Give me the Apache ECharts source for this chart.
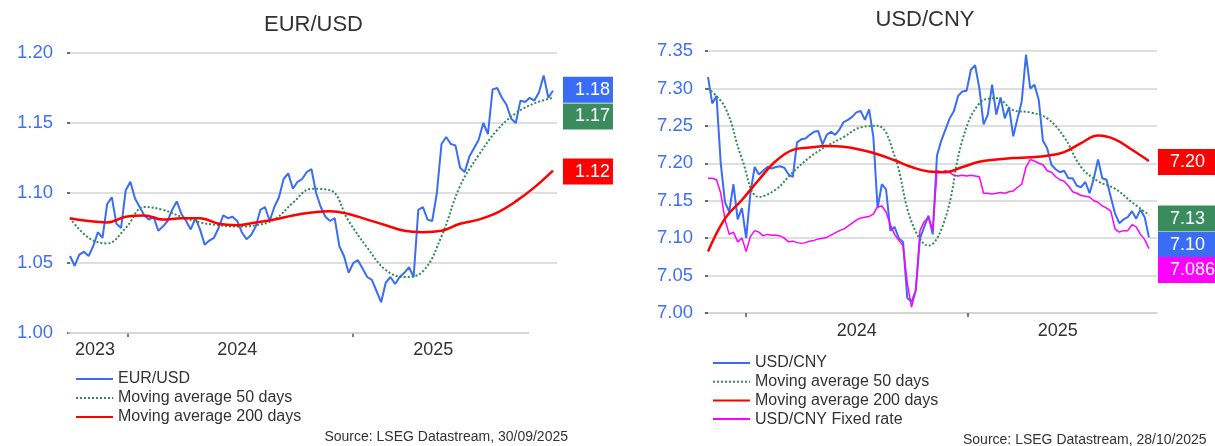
<!DOCTYPE html>
<html><head><meta charset="utf-8">
<script src="https://cdn.jsdelivr.net/npm/echarts@6/dist/echarts.min.js"></script>
<style>html,body{margin:0;padding:0;background:#fff}#c{width:1215px;height:446px}</style>
</head><body><div id="c"></div><script>
// ---------- EUR/USD (weekly samples, 28/09/2023 .. 30/09/2025) ----------
const eurusd = [1.055,1.048,1.056,1.058,1.055,1.062,1.072,1.068,1.092,1.097,
 1.078,1.075,1.102,1.108,1.096,1.090,1.084,1.081,1.083,1.073,
 1.076,1.080,1.088,1.094,1.085,1.080,1.074,1.082,1.074,1.063,
 1.066,1.068,1.075,1.084,1.082,1.083,1.080,1.072,1.067,1.070,
 1.076,1.088,1.090,1.080,1.090,1.097,1.110,1.114,1.103,1.108,
 1.110,1.115,1.117,1.100,1.090,1.083,1.080,1.082,1.062,1.055,
 1.043,1.050,1.052,1.046,1.040,1.038,1.030,1.022,1.036,1.040,
 1.035,1.040,1.043,1.047,1.040,1.088,1.090,1.081,1.080,1.100,
 1.135,1.140,1.135,1.134,1.118,1.115,1.126,1.132,1.138,1.150,
 1.142,1.174,1.175,1.168,1.163,1.153,1.150,1.166,1.165,1.168,
 1.166,1.172,1.184,1.168,1.173];
// moving averages, one value every 4 weeks
const eurMa50 = [1.082,1.068,1.064,1.075,1.090,1.088,1.083,1.079,1.077,1.076,1.077,1.081,1.093,1.103,1.102,1.080,1.061,1.045,1.040,1.044,1.069,1.105,1.127,1.145,1.157,1.164,1.168];
const eurMa200 = [1.082,1.080,1.079,1.083,1.084,1.081,1.082,1.082,1.078,1.077,1.079,1.081,1.084,1.086,1.087,1.085,1.081,1.077,1.073,1.072,1.073,1.078,1.081,1.086,1.094,1.104,1.116];
const eurEndLabels = ['1.18', '1.17', '1.12'];
const eurYearLabels = ['2023', '2024', '2025'];
const eurYearLabelPos = [5.4, 36.0, 78.2];   // in weeks
const eurYearTicks = [12.5, 60.9];           // in weeks

// ---------- USD/CNY (weekly samples, 27/10/2023 .. 28/10/2025) ----------
const usdcny = [7.315,7.280,7.290,7.200,7.148,7.135,7.172,7.125,7.140,7.100,
 7.160,7.195,7.185,7.190,7.195,7.193,7.195,7.196,7.194,7.185,
 7.182,7.228,7.232,7.233,7.238,7.242,7.243,7.225,7.238,7.242,
 7.238,7.245,7.255,7.258,7.262,7.268,7.270,7.258,7.272,7.235,
 7.140,7.172,7.165,7.110,7.115,7.100,7.095,7.020,7.015,7.030,
 7.100,7.115,7.130,7.105,7.210,7.230,7.245,7.260,7.270,7.290,
 7.296,7.297,7.325,7.331,7.300,7.252,7.265,7.305,7.265,7.288,
 7.260,7.275,7.236,7.260,7.283,7.345,7.300,7.305,7.285,7.230,
 7.220,7.198,7.192,7.188,7.190,7.180,7.180,7.170,7.168,7.175,
 7.160,7.180,7.205,7.180,7.178,7.155,7.133,7.120,7.125,7.128,
 7.136,7.126,7.138,7.128,7.101];
const cnyFix = [7.180,7.180,7.178,7.160,7.125,7.105,7.108,7.095,7.100,7.082,
 7.102,7.110,7.108,7.103,7.105,7.104,7.104,7.103,7.100,7.095,
 7.096,7.094,7.093,7.094,7.096,7.097,7.099,7.100,7.101,7.104,
 7.107,7.110,7.112,7.116,7.120,7.124,7.127,7.128,7.129,7.132,
 7.142,7.143,7.135,7.118,7.105,7.097,7.090,7.040,7.008,7.030,
 7.110,7.122,7.128,7.110,7.190,7.188,7.190,7.188,7.184,7.183,
 7.184,7.183,7.184,7.183,7.182,7.160,7.160,7.159,7.160,7.161,
 7.160,7.162,7.163,7.168,7.172,7.195,7.205,7.203,7.200,7.198,
 7.190,7.188,7.182,7.178,7.176,7.170,7.162,7.160,7.157,7.156,
 7.155,7.150,7.148,7.143,7.140,7.136,7.112,7.108,7.110,7.110,
 7.118,7.115,7.105,7.098,7.086];
const cnyMa50 = [7.300,7.275,7.206,7.155,7.165,7.188,7.208,7.223,7.235,7.248,7.250,7.210,7.122,7.090,7.127,7.231,7.280,7.287,7.271,7.268,7.260,7.235,7.195,7.176,7.166,7.148,7.131];
const cnyMa200 = [7.082,7.126,7.151,7.178,7.203,7.218,7.221,7.223,7.222,7.218,7.212,7.204,7.195,7.189,7.188,7.195,7.202,7.205,7.207,7.208,7.210,7.215,7.227,7.237,7.232,7.218,7.203];
const cnyEndLabels = ['7.10', '7.13', '7.20', '7.086'];
const cnyYearLabels = ['2024', '2025'];
const cnyYearLabelPos = [35.1, 82.5];
const cnyYearTicks = [9.0, 61.3];

// ---------- styling ----------
const FONT = '"Liberation Sans", Arial, sans-serif';
const BLUE = '#3A6DF5', LBLUE = '#3F6FF4', GREEN = '#2E8B57', BOXGREEN = '#3A8C5F', RED = '#FF0000', MAG = '#FF00FF';
const GRIDC = '#d4d4d4', TXT = '#333333';
const MA_STEP = 4;

const weekly = arr => arr.map((v, i) => [i, v]);
const every4 = arr => arr.map((v, i) => [i * MA_STEP, v]);
const nearestIdx = (arr, v) => { let b = 0; arr.forEach((p, i) => { if (Math.abs(p - v) < Math.abs(arr[b] - v)) b = i; }); return b; };

function endLabel(text, bg, dist, dy, w) {
  return { show: true, formatter: () => text, color: '#fff', backgroundColor: bg,
    fontSize: 18, fontFamily: FONT, lineHeight: 20, padding: [3, 0, 3, 12], width: w,
    distance: dist, offset: [0, dy], align: 'left', verticalAlign: 'middle' };
}

const EUR_XMIN = -0.43, EUR_XMAX = 104.87, EUR_AXIS_END = 98.84;
const CNY_XMIN = -0.71, CNY_XMAX = 105.9;

const legendBase = { orient: 'vertical', itemWidth: 37, itemHeight: 14, padding: 0,
  selectedMode: false, itemStyle: { opacity: 0 },
  textStyle: { fontSize: 16, color: TXT, fontFamily: FONT } };

const chart = echarts.init(document.getElementById('c'), null, { renderer: 'canvas' });
const option = {
  animation: false,
  backgroundColor: '#ffffff',
  textStyle: { fontFamily: FONT },
  grid: [
    { left: 68, top: 53, width: 489, height: 280 },
    { left: 705, top: 51, width: 452, height: 262 }
  ],
  xAxis: [
    { type: 'value', gridIndex: 0, min: EUR_XMIN, max: EUR_XMAX,
      axisLine: { show: false }, splitLine: { show: false },
      axisTick: { show: true, customValues: eurYearTicks, length: 4, lineStyle: { color: '#555', width: 1.5 } },
      axisLabel: { customValues: eurYearLabelPos, fontSize: 18, color: TXT, margin: 17, verticalAlign: 'middle',
        formatter: v => eurYearLabels[nearestIdx(eurYearLabelPos, v)] } },
    { type: 'value', gridIndex: 1, min: CNY_XMIN, max: CNY_XMAX,
      axisLine: { show: true, lineStyle: { color: '#c8c8c8', width: 1.5 } }, splitLine: { show: false },
      axisTick: { show: true, customValues: cnyYearTicks, length: 4, lineStyle: { color: '#555', width: 1.5 } },
      axisLabel: { customValues: cnyYearLabelPos, fontSize: 18, color: TXT, margin: 18, verticalAlign: 'middle',
        formatter: v => cnyYearLabels[nearestIdx(cnyYearLabelPos, v)] } }
  ],
  yAxis: [
    { type: 'value', gridIndex: 0, min: 1.00, max: 1.20, interval: 0.05,
      axisLine: { show: false },
      axisTick: { show: true, length: 3, lineStyle: { color: '#444', width: 1.5 } },
      axisLabel: { color: LBLUE, fontSize: 18.5, margin: 15, formatter: v => v.toFixed(2) },
      splitLine: { show: true, showMinLine: false, lineStyle: { color: GRIDC, width: 1.5 } } },
    { type: 'value', gridIndex: 1, min: 7.00, max: 7.35, interval: 0.05,
      axisLine: { show: false },
      axisTick: { show: true, length: 3, lineStyle: { color: '#444', width: 1.5 } },
      axisLabel: { color: LBLUE, fontSize: 18.5, margin: 12, formatter: v => v.toFixed(2) },
      splitLine: { show: true, showMinLine: false, lineStyle: { color: GRIDC, width: 1.5 } } }
  ],
  legend: [
    Object.assign({}, legendBase, { left: 75, top: 371, itemGap: 3,
      data: ['EUR/USD', 'Moving average 50 days', 'Moving average 200 days'] }),
    Object.assign({}, legendBase, { left: 712, top: 355, itemGap: 2.7,
      data: ['USD/CNY', 'Moving average 50 days', 'Moving average 200 days', 'USD/CNY Fixed rate'] })
  ],
  series: [
    { name: 'EUR/USD', type: 'line', xAxisIndex: 0, yAxisIndex: 0, data: weekly(eurusd), symbol: 'none', z: 2,
      lineStyle: { color: BLUE, width: 2 }, itemStyle: { color: BLUE },
      endLabel: endLabel(eurEndLabels[0], BLUE, 10, -1, 38),
      markLine: { silent: true, symbol: ['none', 'none'], label: { show: false },
        lineStyle: { color: '#c8c8c8', width: 1.5, type: 'solid' },
        data: [[{ coord: [EUR_XMIN, 1.0] }, { coord: [EUR_AXIS_END, 1.0] }]] } },
    { name: 'Moving average 50 days', type: 'line', xAxisIndex: 0, yAxisIndex: 0, data: every4(eurMa50), symbol: 'none', smooth: 0.4, z: 3,
      lineStyle: { color: GREEN, width: 2, type: [2, 2] }, itemStyle: { color: GREEN },
      endLabel: endLabel(eurEndLabels[1], BOXGREEN, 10, 18.7, 38) },
    { name: 'Moving average 200 days', type: 'line', xAxisIndex: 0, yAxisIndex: 0, data: every4(eurMa200), symbol: 'none', smooth: 0.4, z: 4,
      lineStyle: { color: RED, width: 2.5 }, itemStyle: { color: RED },
      endLabel: endLabel(eurEndLabels[2], RED, 10, 1, 38) },

    { name: 'USD/CNY', type: 'line', xAxisIndex: 1, yAxisIndex: 1, data: weekly(usdcny), symbol: 'none', z: 2,
      lineStyle: { color: BLUE, width: 2 }, itemStyle: { color: BLUE },
      endLabel: endLabel(cnyEndLabels[0], BLUE, 9, 7.6, 60) },
    { name: 'USD/CNY Fixed rate', type: 'line', xAxisIndex: 1, yAxisIndex: 1, data: weekly(cnyFix), symbol: 'none', z: 3,
      lineStyle: { color: MAG, width: 1.5 }, itemStyle: { color: MAG },
      endLabel: endLabel(cnyEndLabels[3], MAG, 9, 21.4, 60) },
    { name: 'Moving average 50 days', type: 'line', xAxisIndex: 1, yAxisIndex: 1, data: every4(cnyMa50), symbol: 'none', smooth: 0.4, z: 4,
      lineStyle: { color: GREEN, width: 2, type: [2, 2] }, itemStyle: { color: GREEN },
      endLabel: endLabel(cnyEndLabels[1], BOXGREEN, 9, 3.6, 60) },
    { name: 'Moving average 200 days', type: 'line', xAxisIndex: 1, yAxisIndex: 1, data: every4(cnyMa200), symbol: 'none', smooth: 0.4, z: 5,
      lineStyle: { color: RED, width: 2.5 }, itemStyle: { color: RED },
      endLabel: endLabel(cnyEndLabels[2], RED, 9, 1, 60) }
  ],
  graphic: [
    { type: 'text', x: 313.5, y: 24.5, style: { text: 'EUR/USD', fontSize: 22, fontFamily: FONT, fill: TXT, align: 'center', verticalAlign: 'middle' } },
    { type: 'text', x: 925, y: 20, style: { text: 'USD/CNY', fontSize: 22, fontFamily: FONT, fill: TXT, align: 'center', verticalAlign: 'middle' } },
    { type: 'text', x: 568, y: 437, style: { text: 'Source: LSEG Datastream, 30/09/2025', fontSize: 14, fontFamily: FONT, fill: TXT, align: 'right', verticalAlign: 'middle' } },
    { type: 'text', x: 963, y: 440, style: { text: 'Source: LSEG Datastream, 28/10/2025', fontSize: 14, fontFamily: FONT, fill: TXT, align: 'left', verticalAlign: 'middle' } }
  ]
};
chart.setOption(option);
</script></body></html>
